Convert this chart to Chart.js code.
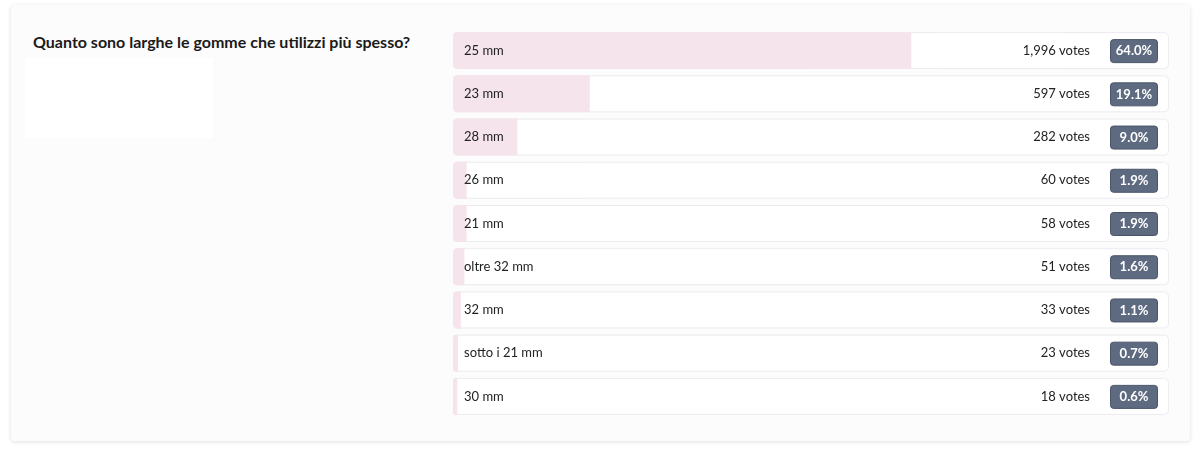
<!DOCTYPE html>
<html>
<head>
<meta charset="utf-8">
<script src="https://cdn.jsdelivr.net/npm/chart.js@4/dist/chart.umd.min.js"></script>
<style>
body { margin:0; background:#fff; width:1200px; height:454px; overflow:hidden; font-family:Lato, "Open Sans", sans-serif; }
.card { position:absolute; left:11px; top:5px; width:1179px; height:436px; background:#fcfcfd; border-radius:4px;
  box-shadow:0 1px 4px rgba(0,0,0,0.13); }
.title { position:absolute; left:33px; top:32px; font-size:16px; font-weight:bold; color:#1a1a1a; }
.blank { position:absolute; left:25px; top:58px; width:188px; height:80px; background:#fff; }
#wrap { position:absolute; left:453px; top:29px; width:716px; height:389px; }
</style>
</head>
<body>
<div class="card"></div>
<div class="title">Quanto sono larghe le gomme che utilizzi più spesso?</div>
<div class="blank"></div>
<div id="wrap"><canvas id="poll"></canvas></div>
<script>
// poll answers
const answers = ["25 mm", "23 mm", "28 mm", "26 mm", "21 mm", "oltre 32 mm", "32 mm", "sotto i 21 mm", "30 mm"];
const votes = [1996, 597, 282, 60, 58, 51, 33, 23, 18];
const percents = [64.0, 19.1, 9.0, 1.9, 1.9, 1.6, 1.1, 0.7, 0.6];

function rrect(ctx, x, y, w, h, r) {
    ctx.beginPath();
    ctx.moveTo(x + r, y);
    ctx.lineTo(x + w - r, y);
    ctx.quadraticCurveTo(x + w, y, x + w, y + r);
    ctx.lineTo(x + w, y + h - r);
    ctx.quadraticCurveTo(x + w, y + h, x + w - r, y + h);
    ctx.lineTo(x + r, y + h);
    ctx.quadraticCurveTo(x, y + h, x, y + h - r);
    ctx.lineTo(x, y + r);
    ctx.quadraticCurveTo(x, y, x + r, y);
    ctx.closePath();
}

// white row boxes behind the bars, text + badges on top
const pollRows = {
    id: "pollRows",
    beforeDatasetsDraw(chart) {
        const ctx = chart.ctx, area = chart.chartArea;
        chart.getDatasetMeta(0).data.forEach(bar => {
            const h = bar.height;
            ctx.save();
            rrect(ctx, area.left + 0.5, bar.y - h / 2 + 0.5, area.right - area.left - 1, h - 1, 5);
            ctx.fillStyle = "#ffffff";
            ctx.fill();
            ctx.strokeStyle = "#ebebf0";
            ctx.lineWidth = 1;
            ctx.stroke();
            ctx.restore();
        });
    },
    afterDatasetsDraw(chart) {
        const ctx = chart.ctx, area = chart.chartArea;
        chart.getDatasetMeta(0).data.forEach((bar, i) => {
            ctx.save();
            ctx.textBaseline = "middle";
            ctx.font = "13px Lato";
            ctx.fillStyle = "#222222";
            ctx.textAlign = "left";
            ctx.fillText(answers[i], area.left + 11, bar.y);
            ctx.textAlign = "right";
            ctx.fillText(votes[i].toLocaleString("en-US") + " votes", area.left + 637, bar.y);

            // badge
            const bx = area.left + 657, bw = 47, bh = 23;
            rrect(ctx, bx + 0.5, bar.y - bh / 2 + 0.5, bw, bh, 3);
            ctx.fillStyle = "#5e6a80";
            ctx.fill();
            ctx.strokeStyle = "#4a5569";
            ctx.stroke();
            ctx.fillStyle = "#ffffff";
            ctx.font = "bold 13px Lato";
            ctx.textAlign = "center";
            ctx.fillText(percents[i].toFixed(1) + "%", bx + bw / 2 + 0.5, bar.y + 0.5);
            ctx.restore();
        });
    }
};

new Chart(document.getElementById("poll"), {
    type: "bar",
    data: {
        labels: answers,
        datasets: [{
            data: percents,
            backgroundColor: "#f6e4ec",
            borderWidth: 0,
            borderSkipped: false,
            borderRadius: { topLeft: 4, bottomLeft: 4, topRight: 0, bottomRight: 0 },
            barThickness: 37,
            inflateAmount: 0
        }]
    },
    options: {
        indexAxis: "y",
        responsive: true,
        maintainAspectRatio: false,
        animation: false,
        layout: { padding: 0 },
        plugins: { legend: { display: false }, tooltip: { enabled: false } },
        scales: {
            x: { display: false, min: 0, max: 100 },
            y: { display: false }
        }
    },
    plugins: [pollRows]
});
</script>
</body>
</html>
